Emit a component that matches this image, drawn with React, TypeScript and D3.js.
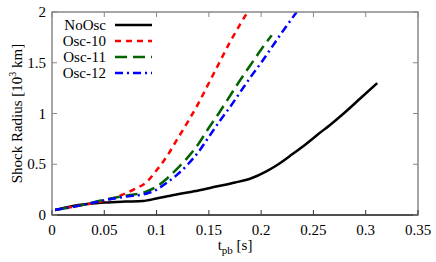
import * as d3 from "d3";
import { useEffect, useRef } from "react";

const seriesNames = ["NoOsc", "Osc-10", "Osc-11", "Osc-12"];
const seriesColors = ["#000000", "#ff0000", "#006400", "#0000ff"];
const seriesDash = ["", "6,5", "12,6", "8,4,2,4"];

const tNoOsc = [0.003, 0.02, 0.05, 0.07, 0.087, 0.1, 0.12, 0.14, 0.157, 0.175, 0.19, 0.205, 0.215, 0.23, 0.243, 0.255, 0.265, 0.28, 0.295, 0.311];
const rNoOsc = [0.05, 0.09, 0.122, 0.132, 0.138, 0.162, 0.205, 0.242, 0.28, 0.32, 0.36, 0.43, 0.49, 0.6, 0.7, 0.8, 0.88, 1.01, 1.15, 1.3];

const tOsc10 = [0.003, 0.03, 0.05, 0.065, 0.08, 0.09, 0.1, 0.11, 0.12, 0.13, 0.14, 0.15, 0.16, 0.17, 0.18, 0.187];
const rOsc10 = [0.05, 0.1, 0.14, 0.19, 0.26, 0.32, 0.44, 0.58, 0.75, 0.92, 1.1, 1.3, 1.5, 1.7, 1.88, 2.0];

const tOsc11 = [0.003, 0.03, 0.05, 0.07, 0.09, 0.1, 0.11, 0.12, 0.13, 0.14, 0.15, 0.16, 0.17, 0.18, 0.19, 0.2, 0.21];
const rOsc11 = [0.05, 0.1, 0.15, 0.19, 0.23, 0.28, 0.36, 0.46, 0.57, 0.7, 0.86, 1.01, 1.17, 1.33, 1.48, 1.63, 1.77];

const tOsc12 = [0.003, 0.03, 0.05, 0.07, 0.09, 0.1, 0.11, 0.12, 0.13, 0.14, 0.15, 0.16, 0.17, 0.18, 0.19, 0.2, 0.21, 0.22, 0.234];
const rOsc12 = [0.05, 0.1, 0.145, 0.18, 0.21, 0.25, 0.32, 0.4, 0.5, 0.62, 0.77, 0.92, 1.06, 1.21, 1.36, 1.5, 1.65, 1.8, 2.0];

const xTicks = [0, 0.05, 0.1, 0.15, 0.2, 0.25, 0.3, 0.35];
const xTickLabels = ["0", "0.05", "0.1", "0.15", "0.2", "0.25", "0.3", "0.35"];
const yTicks = [0, 0.5, 1, 1.5, 2];
const yTickLabels = ["0", "0.5", "1", "1.5", "2"];

export default function App() {
  const ref = useRef<SVGSVGElement>(null);

  useEffect(() => {
    const W = 436, H = 262;
    const m = { left: 52, right: 18, top: 12, bottom: 47 };
    const font = "Times New Roman, Liberation Serif, Tinos, serif";

    const svg = d3.select(ref.current);
    svg.selectAll("*").remove();

    const x = d3.scaleLinear().domain([0, 0.35]).range([m.left, W - m.right]);
    const y = d3.scaleLinear().domain([0, 2]).range([H - m.bottom, m.top]);

    const data = [
      d3.zip(tNoOsc, rNoOsc),
      d3.zip(tOsc10, rOsc10),
      d3.zip(tOsc11, rOsc11),
      d3.zip(tOsc12, rOsc12),
    ];

    svg.append("defs").append("clipPath").attr("id", "plotclip")
      .append("rect")
      .attr("x", m.left).attr("y", m.top)
      .attr("width", W - m.left - m.right).attr("height", H - m.top - m.bottom);

    const line = d3.line<[number, number]>()
      .x(d => x(d[0]))
      .y(d => y(d[1]))
      .curve(d3.curveMonotoneX);

    //curves
    const g = svg.append("g").attr("clip-path", "url(#plotclip)");
    data.forEach((d, i) => {
      g.append("path")
        .attr("d", line(d as [number, number][]))
        .attr("fill", "none")
        .attr("stroke", seriesColors[i])
        .attr("stroke-width", 2.5)
        .attr("stroke-dasharray", seriesDash[i]);
    });

    //frame and inward ticks
    const frame = svg.append("g");
    frame.append("rect")
      .attr("x", m.left).attr("y", m.top)
      .attr("width", W - m.left - m.right).attr("height", H - m.top - m.bottom)
      .attr("fill", "none").attr("stroke", "#888").attr("stroke-width", 1.5);
    frame.append("line")
      .attr("x1", m.left).attr("x2", W - m.right)
      .attr("y1", y(0)).attr("y2", y(0))
      .attr("stroke", "#333").attr("stroke-width", 1.5);

    xTicks.forEach((t, i) => {
      frame.append("line").attr("x1", x(t)).attr("x2", x(t)).attr("y1", y(0)).attr("y2", y(0) - 5).attr("stroke", "#333");
      frame.append("line").attr("x1", x(t)).attr("x2", x(t)).attr("y1", y(2)).attr("y2", y(2) + 5).attr("stroke", "#888");
      svg.append("text")
        .attr("x", x(t)).attr("y", y(0) + 20)
        .attr("text-anchor", "middle")
        .attr("font-family", font).attr("font-size", 15)
        .text(xTickLabels[i]);
    });
    yTicks.forEach((v, i) => {
      frame.append("line").attr("x1", m.left).attr("x2", m.left + 5).attr("y1", y(v)).attr("y2", y(v)).attr("stroke", "#888");
      frame.append("line").attr("x1", W - m.right).attr("x2", W - m.right - 5).attr("y1", y(v)).attr("y2", y(v)).attr("stroke", "#888");
      svg.append("text")
        .attr("x", m.left - 6).attr("y", y(v) + 5)
        .attr("text-anchor", "end")
        .attr("font-family", font).attr("font-size", 15)
        .text(yTickLabels[i]);
    });

    //axis titles
    const xl = svg.append("text")
      .attr("x", (m.left + W - m.right) / 2).attr("y", H - 12)
      .attr("text-anchor", "middle")
      .attr("font-family", font).attr("font-size", 15);
    xl.append("tspan").text("t");
    xl.append("tspan").attr("dy", 4).attr("font-size", 11).text("pb");
    xl.append("tspan").attr("dy", -4).text(" [s]");

    const yl = svg.append("text")
      .attr("transform", `translate(22,${(m.top + H - m.bottom) / 2}) rotate(-90)`)
      .attr("text-anchor", "middle")
      .attr("font-family", font).attr("font-size", 15);
    yl.append("tspan").text("Shock Radius [10");
    yl.append("tspan").attr("dy", -6).attr("font-size", 10).text("3");
    yl.append("tspan").attr("dy", 6).text(" km]");

    //legend
    const legend = svg.append("g");
    seriesNames.forEach((name, i) => {
      const ly = 25 + i * 16;
      legend.append("text")
        .attr("x", 106).attr("y", ly + 5)
        .attr("text-anchor", "end")
        .attr("font-family", font).attr("font-size", 15)
        .text(name);
      legend.append("line")
        .attr("x1", 115).attr("x2", 152)
        .attr("y1", ly).attr("y2", ly)
        .attr("stroke", seriesColors[i])
        .attr("stroke-width", 2.5)
        .attr("stroke-dasharray", seriesDash[i]);
    });
  }, []);

  return (
    <svg ref={ref} width={436} height={262}
      style={{ position: "absolute", left: 0, top: 0, background: "#fff" }} />
  );
}
